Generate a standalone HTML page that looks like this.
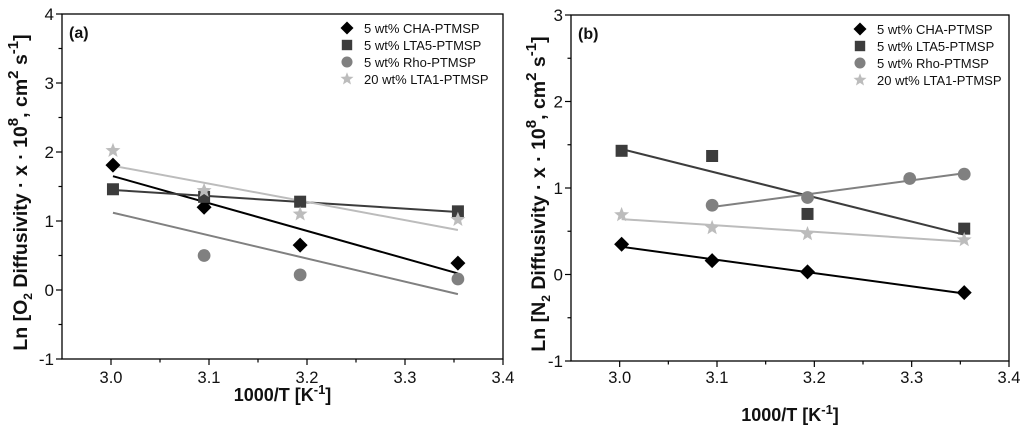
<!DOCTYPE html>
<html><head><meta charset="utf-8"><style>
html,body{margin:0;padding:0;background:#fff;width:1024px;height:428px;overflow:hidden}
svg{font-family:"Liberation Sans",Arial,sans-serif}
</style></head><body>
<svg id="chart" width="1024" height="428" viewBox="0 0 1024 428" xmlns="http://www.w3.org/2000/svg"></svg>
<script>
const xCats = [3.002, 3.095, 3.193, 3.354];
const seriesNames = ["5 wt% CHA-PTMSP","5 wt% LTA5-PTMSP","5 wt% Rho-PTMSP","20 wt% LTA1-PTMSP"];
// Panel a (O2)
const aCHA = [1.81, 1.2, 0.65, 0.39];
const aLTA5 = [1.46, 1.35, 1.28, 1.14];
const aRhoX = [3.095, 3.193, 3.354];
const aRho = [0.5, 0.22, 0.16];
const aLTA1 = [2.02, 1.44, 1.1, 1.02];
const aFitStart = [1.65, 1.45, 1.12, 1.8];
const aFitEnd = [0.24, 1.13, -0.06, 0.87];
const aFitX0 = [3.002, 3.002, 3.002, 3.002];
// Panel b (N2)
const bCHA = [0.35, 0.16, 0.03, -0.21];
const bLTA5 = [1.43, 1.37, 0.7, 0.53];
const bRhoX = [3.095, 3.193, 3.298, 3.354];
const bRho = [0.8, 0.89, 1.11, 1.16];
const bLTA1 = [0.69, 0.54, 0.47, 0.4];
const bFitStart = [0.32, 1.45, 0.78, 0.64];
const bFitEnd = [-0.22, 0.46, 1.17, 0.38];
const bFitX0 = [3.002, 3.002, 3.095, 3.002];
const xTicks = [3.0, 3.1, 3.2, 3.3, 3.4];
const aYTicks = [-1, 0, 1, 2, 3, 4];
const bYTicks = [-1, 0, 1, 2, 3];

const NS = "http://www.w3.org/2000/svg";
const svg = document.getElementById("chart");
const colors = ["#000000","#3c3c3c","#808080","#bcbcbc"];
const markers = ["diamond","square","circle","star"];

function mk(tag, attrs, parent){
  const e = document.createElementNS(NS, tag);
  for (const k in attrs) e.setAttribute(k, attrs[k]);
  (parent||svg).appendChild(e);
  return e;
}
function marker(g, type, cx, cy, col, s){
  let e;
  if (type==="diamond") e = mk("polygon",{points:`${cx},${cy-s} ${cx+s},${cy} ${cx},${cy+s} ${cx-s},${cy}`,fill:col},g);
  else if (type==="square") e = mk("rect",{x:cx-s*0.8,y:cy-s*0.8,width:s*1.6,height:s*1.6,fill:col},g);
  else if (type==="circle") e = mk("circle",{cx:cx,cy:cy,r:s*0.85,fill:col},g);
  else {
    let p=[];
    for(let i=0;i<10;i++){const r=i%2?s*0.45:s*1.05;const a=-Math.PI/2+i*Math.PI/5;p.push((cx+r*Math.cos(a)).toFixed(1)+","+(cy+r*Math.sin(a)).toFixed(1));}
    e = mk("polygon",{points:p.join(" "),fill:col},g);
  }
  return e;
}

function panel(cfg){
  const g = mk("g",{});
  
  
  const X = v => cfg.x0 + (v-2.95)/(3.4-2.95)*(cfg.x1-cfg.x0);
  const Y = v => cfg.y1 - (v-cfg.ymin)/(cfg.ymax-cfg.ymin)*(cfg.y1-cfg.y0);
  const frame = mk("rect",{x:cfg.x0,y:cfg.y0,width:cfg.x1-cfg.x0,height:cfg.y1-cfg.y0,fill:"none",stroke:"#000","stroke-width":1.3},g);
  
  
  for (let v=3.0; v<=3.401; v+=0.05){
    const major = Math.abs(v*10-Math.round(v*10))<1e-6;
    mk("line",{x1:X(v),x2:X(v),y1:cfg.y1,y2:cfg.y1+(major?6:3.5),stroke:"#000","stroke-width":1.2},g);
  }
  xTicks.forEach(v=>{
    const t = mk("text",{x:X(v),y:cfg.y1+cfg.xtickOff,"text-anchor":"middle","font-size":16.5,fill:"#111"},g);
    t.textContent = v.toFixed(1);
    
    
  });
  for (let v=cfg.ymin; v<=cfg.ymax+1e-6; v+=0.5){
    const major = Math.abs(v-Math.round(v))<1e-6;
    mk("line",{x1:cfg.x0,x2:cfg.x0-(major?6:3.5),y1:Y(v),y2:Y(v),stroke:"#000","stroke-width":1.2},g);
  }
  cfg.yTicks.forEach(v=>{
    const t = mk("text",{x:cfg.x0-8,y:Y(v)+6,"text-anchor":"end","font-size":17,fill:"#111"},g);
    t.textContent = v;
    
    
  });
  const xt = mk("text",{x:(cfg.x0+cfg.x1)/2,y:cfg.y1+cfg.xtOff,"text-anchor":"middle","font-size":18,"font-weight":"bold",fill:"#111"},g);
  xt.innerHTML = '1000/T [K<tspan dy="-7" font-size="13">-1</tspan><tspan dy="7">]</tspan>';
  
  
  const yt = mk("text",{x:0,y:0,"text-anchor":"middle","font-size":19.5,"font-weight":"bold",fill:"#111",transform:`translate(${cfg.ytX},${(cfg.y0+cfg.y1)/2+6}) rotate(-90)`},g);
  yt.innerHTML = `Ln [${cfg.gas}<tspan dy="5" font-size="12">2</tspan><tspan dy="-5"> Diffusivity · x · 10</tspan><tspan dy="-9" font-size="15">8</tspan><tspan dy="9">, cm</tspan><tspan dy="-9" font-size="15">2</tspan><tspan dy="9"> s</tspan><tspan dy="-9" font-size="15">-1</tspan><tspan dy="9">]</tspan>`;
  
  
  const lab = mk("text",{x:cfg.x0+7,y:cfg.y0+24,"font-size":16,"font-weight":"bold",fill:"#111"},g);
  lab.textContent = cfg.label;
  
  
  cfg.series.forEach((s,i)=>{
    const ln = mk("line",{x1:X(cfg.fitX0[i]),y1:Y(cfg.fitStart[i]),x2:X(3.354),y2:Y(cfg.fitEnd[i]),stroke:colors[i],"stroke-width":2},g);
    
    
  });
  cfg.series.forEach((s,i)=>{
    s.y.forEach((v,j)=>{
      const m = marker(g, markers[i], X(s.x[j]), Y(v), colors[i], 7.5);
      
      
    });
  });
  seriesNames.forEach((n,i)=>{
    const ly = cfg.y0+14+i*17;
    const m = marker(g, markers[i], cfg.legX, ly, colors[i], 6.5);
    
    
    const t = mk("text",{x:cfg.legX+17,y:ly+5,"font-size":13,fill:"#111"},g);
    t.textContent = n;
    
    
  });
}

panel({name:"panel-a-o2",label:"(a)",gas:"O",x0:62,x1:503,y0:14,y1:359,ymin:-1,ymax:4,yTicks:aYTicks,legX:347,xtickOff:24,xtOff:42,ytX:27,
  fitStart:aFitStart,fitEnd:aFitEnd,fitX0:aFitX0,
  series:[{x:xCats,y:aCHA},{x:xCats,y:aLTA5},{x:aRhoX,y:aRho},{x:xCats,y:aLTA1}]});
panel({name:"panel-b-n2",label:"(b)",gas:"N",x0:571,x1:1009,y0:15,y1:361,ymin:-1,ymax:3,yTicks:bYTicks,legX:860,xtickOff:22,xtOff:60,ytX:545,
  fitStart:bFitStart,fitEnd:bFitEnd,fitX0:bFitX0,
  series:[{x:xCats,y:bCHA},{x:xCats,y:bLTA5},{x:bRhoX,y:bRho},{x:xCats,y:bLTA1}]});
</script>
</body></html>
